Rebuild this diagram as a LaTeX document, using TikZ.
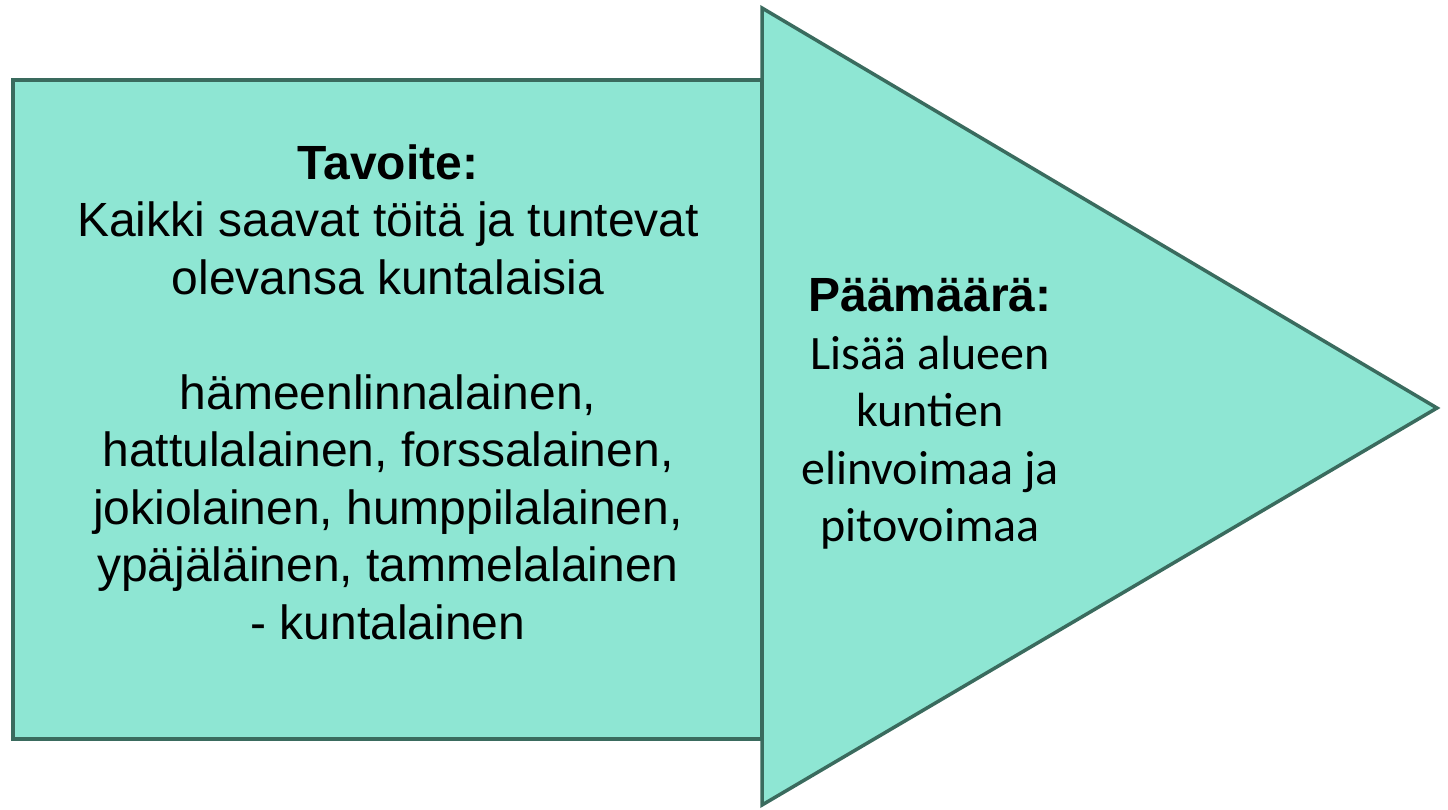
\documentclass[tikz,border=0pt]{standalone}
\usepackage{fontspec}
\setmainfont{Liberation Sans}
\newfontfamily\calib{Carlito}
\definecolor{fillc}{HTML}{8EE6D3}
\definecolor{edgec}{HTML}{3A6B5E}
\begin{document}
\begin{tikzpicture}[x=1pt,y=-1pt,
  shapebox/.style={fill=fillc,draw=edgec,line width=3.5pt,line join=miter},
  txt/.style={align=center,inner sep=0pt,text=black}]
\useasboundingbox (0,0) rectangle (1448,809);
\draw[shapebox] (13,80) rectangle (762,739);
\draw[shapebox] (762,8) -- (1437,408) -- (762,805) -- cycle;
\node[txt,font=\fontsize{48}{57.5}\selectfont] (goal) at (388,392)
  {\textbf{Tavoite:}\\Kaikki saavat töitä ja tuntevat\\olevansa kuntalaisia\\[57.5pt]
   hämeenlinnalainen,\\hattulalainen, forssalainen,\\jokiolainen, humppilalainen,\\ypäjäläinen, tammelalainen\\- kuntalainen};
\node[txt,font=\fontsize{48}{57.5}\selectfont] (aim) at (930,414)
  {\textbf{Päämäärä:}\\{\calib\fontsize{48}{57.5}\selectfont Lisää alueen}\\{\calib\fontsize{48}{57.5}\selectfont kuntien}\\{\calib\fontsize{48}{57.5}\selectfont elinvoimaa ja}\\{\calib\fontsize{48}{57.5}\selectfont pitovoimaa}};
\end{tikzpicture}
\end{document}
